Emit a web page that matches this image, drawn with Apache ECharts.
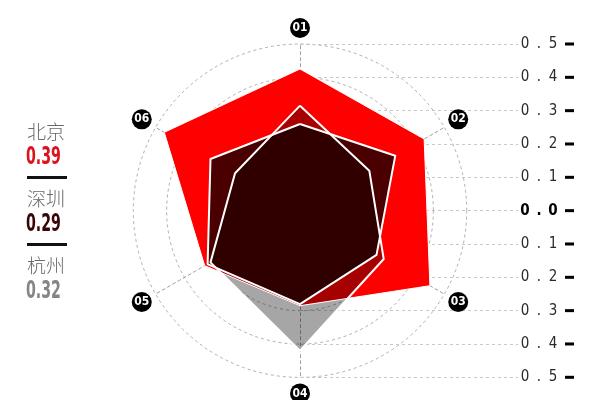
<!DOCTYPE html>
<html>
<head>
<meta charset="utf-8">
<script src="https://cdn.jsdelivr.net/npm/echarts@6/dist/echarts.min.js"></script>
<style>
html,body{margin:0;padding:0;background:#fff;}
#chart{width:600px;height:400px;}
</style>
</head>
<body>
<div id="chart"></div>
<script>
// ---- data ----
const indicatorNames = ['01', '02', '03', '04', '05', '06'];
const beijing  = [0.425, 0.43, 0.45, 0.285, 0.33, 0.47];
const shenzhen = [0.26, 0.33, 0.265, 0.28, 0.32, 0.31];
const hangzhou = [0.315, 0.24, 0.29, 0.42, 0.31, 0.225];
const cityNames = ['北京', '深圳', '杭州'];
const cityScores = ['0.39', '0.29', '0.32'];
const tickLabels = ['0.5', '0.4', '0.3', '0.2', '0.1', '0.0', '0.1', '0.2', '0.3', '0.4', '0.5'];
const axisMax = 0.5;

// radar in ECharts runs counter-clockwise; the reference runs clockwise
function clockwiseOrder(arr) { return [arr[0]].concat(arr.slice(1).reverse()); }

const NARROW = "'Liberation Sans Narrow', 'DejaVu Sans Condensed', 'DejaVu Sans', sans-serif";
const CJK = "'Noto Sans CJK SC', 'Noto Sans', sans-serif";

const chart = echarts.init(document.getElementById('chart'));

const fills = [
  { name: cityNames[0], value: clockwiseOrder(beijing),  color: '#ff0000' },
  { name: cityNames[1], value: clockwiseOrder(shenzhen), color: 'rgba(0,0,0,0.71)' },
  { name: cityNames[2], value: clockwiseOrder(hangzhou), color: 'rgba(0,0,0,0.35)' }
];

const legendColors = ['#de121c', '#3a0606', '#858585'];
const legendGraphics = [];
cityNames.forEach(function (n, i) {
  const base = 122 + i * 67;
  legendGraphics.push({
    type: 'text', x: 27, y: base,
    style: { text: n, fill: '#6a6a6a', font: '300 19px ' + CJK, textVerticalAlign: 'top' }
  });
  legendGraphics.push({
    type: 'text', x: 26, y: base + 23, scaleX: 0.63,
    style: { text: cityScores[i], fill: legendColors[i], font: 'bold 25px ' + NARROW, textVerticalAlign: 'top' }
  });
  if (i < cityNames.length - 1) {
    legendGraphics.push({
      type: 'rect', x: 27, y: base + 54,
      shape: { width: 40, height: 3 }, style: { fill: '#111' }
    });
  }
});

function tickFormatter(val) {
  const chars = String(val).split('');
  const key = val === '0.0' ? 'b' : 'c';
  return chars.map(function (c) { return '{' + key + '|' + c + '}'; }).join('') + '{s| }{d| }';
}

const option = {
  backgroundColor: '#fff',
  animation: false,
  graphic: legendGraphics,
  grid: { left: 300, right: 82, top: 44, bottom: 22.7, containLabel: false },
  xAxis: { type: 'value', show: false, min: 0, max: 1 },
  yAxis: {
    type: 'category',
    position: 'right',
    data: tickLabels,
    boundaryGap: false,
    axisLine: { show: false },
    axisTick: { show: false },
    splitLine: { show: true, interval: 0, lineStyle: { color: '#c8c8c8', type: [3, 3], width: 1 } },
    axisLabel: {
      interval: 0,
      margin: 0,
      formatter: tickFormatter,
      rich: {
        c: { width: 14, align: 'center', fontFamily: NARROW, fontSize: 15, color: '#2a2a2a', verticalAlign: 'middle' },
        b: { width: 14, align: 'center', fontFamily: NARROW, fontSize: 15, fontWeight: 'bold', color: '#000', verticalAlign: 'middle' },
        s: { width: 5, fontSize: 10, verticalAlign: 'middle' },
        d: { width: 9, height: 3, fontSize: 2, lineHeight: 3, backgroundColor: '#000', verticalAlign: 'middle' }
      }
    }
  },
  radar: {
    center: [300, 210.7],
    radius: 166.7,
    startAngle: 90,
    shape: 'circle',
    splitNumber: 5,
    nameGap: 16,
    indicator: clockwiseOrder(indicatorNames).map(function (n) { return { name: n, min: 0, max: axisMax }; }),
    axisName: {
      align: 'center',
      verticalAlign: 'middle',
      formatter: function (name) { return '{n|' + name + '}'; },
      rich: {
        n: {
          color: '#fff', backgroundColor: '#000', borderRadius: 10,
          width: 20, height: 20, lineHeight: 20, align: 'center',
          fontFamily: NARROW, fontWeight: 'bold', fontSize: 12
        }
      }
    },
    splitLine: { lineStyle: { color: '#b0b0b0', type: [3, 3], width: 1 } },
    splitArea: { show: false },
    axisLine: { lineStyle: { color: '#a0a0a0', type: [3, 3], width: 1 } },
    axisTick: { show: false },
    axisLabel: { show: false }
  },
  series: [
    {
      type: 'radar',
      symbol: 'none',
      silent: true,
      data: fills.map(function (f) {
        return {
          name: f.name, value: f.value,
          lineStyle: { width: 0, opacity: 0 },
          areaStyle: { color: f.color, opacity: 1 }
        };
      })
    },
    {
      type: 'radar',
      symbol: 'none',
      silent: true,
      data: fills.map(function (f, i) {
        return {
          name: f.name, value: f.value,
          lineStyle: { color: '#fff', width: i === 0 ? 1 : 2, opacity: 1 }
        };
      })
    }
  ]
};
chart.setOption(option);
</script>
</body>
</html>
